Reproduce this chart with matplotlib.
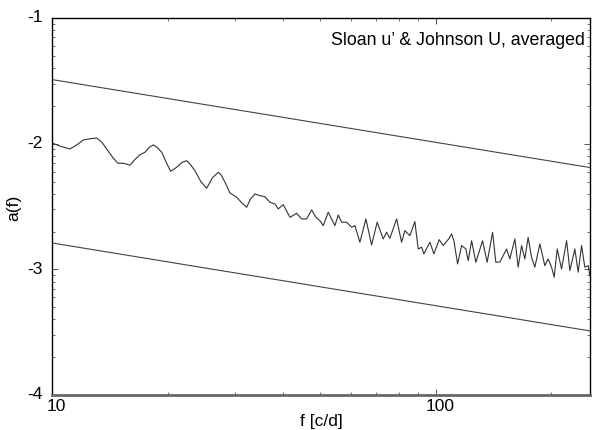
import numpy as np
import matplotlib
matplotlib.use('Agg')
import matplotlib.pyplot as plt
import matplotlib.transforms as mtransforms
from matplotlib.ticker import FixedLocator, NullFormatter

plt.rcParams['font.family'] = ['Liberation Sans', 'DejaVu Sans']
plt.rcParams['axes.unicode_minus'] = False

# averaged amplitude spectrum, log10 a(f) vs f [c/d]
freq = [10.0, 10.5, 11.14, 11.6, 12.06, 12.5, 13.07, 13.5, 13.99, 14.4,
        14.85, 15.40, 15.96, 16.4, 16.95, 17.47, 17.9, 18.36, 18.8, 19.31,
        19.85, 20.38, 21.12, 21.8, 22.43, 23.0, 23.57, 24.4, 25.28, 26.2,
        27.12, 27.6, 28.22, 29.08, 30.27, 31.2, 32.14, 32.9, 33.78, 34.81,
        35.87, 36.96, 38.08, 38.85, 40.03, 41.68, 43.38, 44.70, 46.06, 47.46,
        48.70, 49.88, 50.88, 52.43, 54.58, 55.67, 56.81, 58.54, 60.33, 61.53,
        63.40, 65.72, 68.01, 70.32, 72.91, 74.40, 75.89, 79.01, 81.41, 83.04,
        85.56, 88.16, 89.93, 91.79, 93.07, 96.47, 98.81, 102.0, 104.5, 108.3,
        109.9, 111.4, 113.9, 116.7, 119.7, 121.4, 123.9, 127.1, 132.3, 136.0,
        140.5, 143.3, 146.8, 152.8, 155.8, 160.6, 163.8, 167.2, 170.5, 173.9,
        177.5, 181.0, 186.6, 192.2, 196.1, 200.1, 203.3, 207.0, 212.5, 219.0,
        223.4, 230.1, 234.8, 239.6, 244.3, 249.3, 251.8]
amp = [-1.994, -2.020, -2.042, -2.010, -1.971, -1.962, -1.955, -1.990, -2.056, -2.110,
       -2.156, -2.156, -2.172, -2.130, -2.088, -2.068, -2.030, -2.010, -2.030, -2.068,
       -2.150, -2.220, -2.188, -2.150, -2.135, -2.170, -2.215, -2.300, -2.355, -2.270,
       -2.228, -2.250, -2.307, -2.392, -2.426, -2.470, -2.506, -2.440, -2.400, -2.414,
       -2.422, -2.466, -2.480, -2.519, -2.485, -2.586, -2.554, -2.599, -2.599, -2.527,
       -2.586, -2.613, -2.652, -2.546, -2.652, -2.567, -2.625, -2.625, -2.665, -2.652,
       -2.784, -2.599, -2.806, -2.625, -2.758, -2.705, -2.753, -2.599, -2.784, -2.692,
       -2.732, -2.620, -2.838, -2.824, -2.877, -2.784, -2.877, -2.764, -2.811, -2.753,
       -2.718, -2.772, -2.957, -2.811, -2.838, -2.931, -2.772, -2.944, -2.772, -2.944,
       -2.705, -2.944, -2.941, -2.838, -2.917, -2.758, -2.983, -2.811, -2.917, -2.745,
       -2.904, -2.983, -2.798, -2.971, -2.917, -2.983, -3.063, -2.838, -2.997, -2.772,
       -3.010, -2.838, -3.023, -2.811, -2.983, -2.971, -3.050]

# envelope lines (end points)
line_f = [10, 252]
upper_a = [-1.49, -2.19]
lower_a = [-2.79, -3.49]

fig = plt.figure(figsize=(5.92, 4.31), dpi=100)
ax = fig.add_axes([0.0878, 0.0812, 0.9088, 0.8747])

ax.plot(line_f, upper_a, color='#444444', lw=0.8)
ax.plot(line_f, lower_a, color='#444444', lw=0.8)
ax.plot(freq, amp, color='#333333', lw=0.8)

ax.set_xscale('log')
ax.set_xlim(10, 252)
ax.set_ylim(-4, -1)

ax.xaxis.set_major_locator(FixedLocator([10, 100]))
ax.set_xticklabels(['10', '100'])
ax.xaxis.set_minor_locator(FixedLocator([20, 30, 40, 50, 60, 70, 80, 90, 200]))
ax.xaxis.set_minor_formatter(NullFormatter())

ax.yaxis.set_major_locator(FixedLocator([-4, -3, -2, -1]))
ax.set_yticklabels(['-4', '-3', '-2', '-1'])
ymin = [d + np.log10(m) for d in (-4, -3, -2) for m in range(2, 10)]
ax.yaxis.set_minor_locator(FixedLocator(ymin))

ax.tick_params(which='both', direction='in', top=True, right=True,
               labelsize=12.5, color='#333333')
ax.tick_params(which='major', length=4, width=0.6)
ax.tick_params(which='minor', length=2.5, width=0.5)
ax.tick_params(axis='x', pad=2)
ax.tick_params(axis='y', pad=7)

# nudge x tick labels a little to the right, as in the original
shift = mtransforms.ScaledTranslation(3 / 72, 0, fig.dpi_scale_trans)
for lab in ax.get_xticklabels():
    lab.set_transform(lab.get_transform() + shift)
shift_y = mtransforms.ScaledTranslation(0, 2 / 72, fig.dpi_scale_trans)
for lab in ax.get_yticklabels():
    lab.set_transform(lab.get_transform() + shift_y)

for s in ax.spines.values():
    s.set_linewidth(1.0)
ax.spines['bottom'].set_linewidth(2.0)
ax.spines['bottom'].set_color('#666666')

ax.set_xlabel('f [c/d]', fontsize=12.5, labelpad=0)
ax.set_ylabel('a(f)', fontsize=12.5, labelpad=4)

ax.text(0.991, 0.944, "Sloan u\u2019 & Johnson U, averaged", transform=ax.transAxes,
        ha='right', va='center', fontsize=12.8)

fig.savefig('out.png', dpi=100)
